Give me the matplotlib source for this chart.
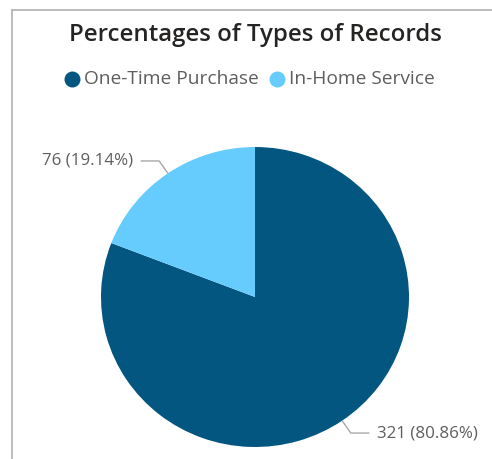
import numpy as np
import matplotlib
matplotlib.use("Agg")
import matplotlib.pyplot as plt
from matplotlib.lines import Line2D

categories = ["One-Time Purchase", "In-Home Service"]
counts = [321, 76]
percent_labels = ["80.86%", "19.14%"]
colors = ["#03567F", "#66CCFE"]
title = "Percentages of Types of Records"

W, H = 492, 459
fig = plt.figure(figsize=(W / 100, H / 100), dpi=100)
plt.rcParams['font.family'] = ['Open Sans', 'DejaVu Sans']

def fx(x):
    return x / W

def fy(y):
    return 1 - y / H

# frame border (top and left)
fig.add_artist(Line2D([fx(12), fx(492)], [fy(10), fy(10)], color="#B0B0B0", lw=1.2))
fig.add_artist(Line2D([fx(12), fx(12)], [fy(10), fy(459)], color="#B0B0B0", lw=1.2))

# title
fig.text(fx(255), fy(35), title, ha="center", va="center", fontsize=17.3,
         fontweight="semibold", color="#252423")

# legend
leg_items = [(72, 84), (277, 289)]
for (cx, tx), cat, col in zip(leg_items, categories, colors):
    fig.add_artist(Line2D([fx(cx)], [fy(79)], marker="o", markersize=11.5,
                          color=col, markeredgewidth=0))
    fig.text(fx(tx), fy(79), cat, ha="left", va="center", fontsize=13.8,
             color="#605E5C")

# pie
cx, cy, rx, ry = 255, 297, 154, 150
ax = fig.add_axes([fx(cx - rx), fy(cy + ry), 2 * rx / W, 2 * ry / H])
wedges, _ = ax.pie(counts, colors=colors, startangle=90, counterclock=False,
                   radius=1.0, wedgeprops=dict(linewidth=0))
ax.set_xlim(-1, 1)
ax.set_ylim(-1, 1)
ax.set_aspect("auto")
ax.axis("off")

for w, n, p in zip(wedges, counts, percent_labels):
    ang = np.deg2rad((w.theta1 + w.theta2) / 2)
    x0, y0 = np.cos(ang) * 1.0, np.sin(ang) * 1.0
    x1, y1 = np.cos(ang) * 1.1, np.sin(ang) * 1.1
    side = 1 if x1 > 0 else -1
    x2 = x1 + side * 0.12
    ax.plot([x0, x1, x2], [y0, y1, y1], color="#A8A8A8", lw=1.0,
            clip_on=False, solid_capstyle="butt")
    ax.text(x2 + side * 0.05, y1, f"{n} ({p})", ha="left" if side > 0 else "right",
            va="center", fontsize=12.2, color="#605E5C", clip_on=False)

fig.savefig("out.png", dpi=100, facecolor="white")
